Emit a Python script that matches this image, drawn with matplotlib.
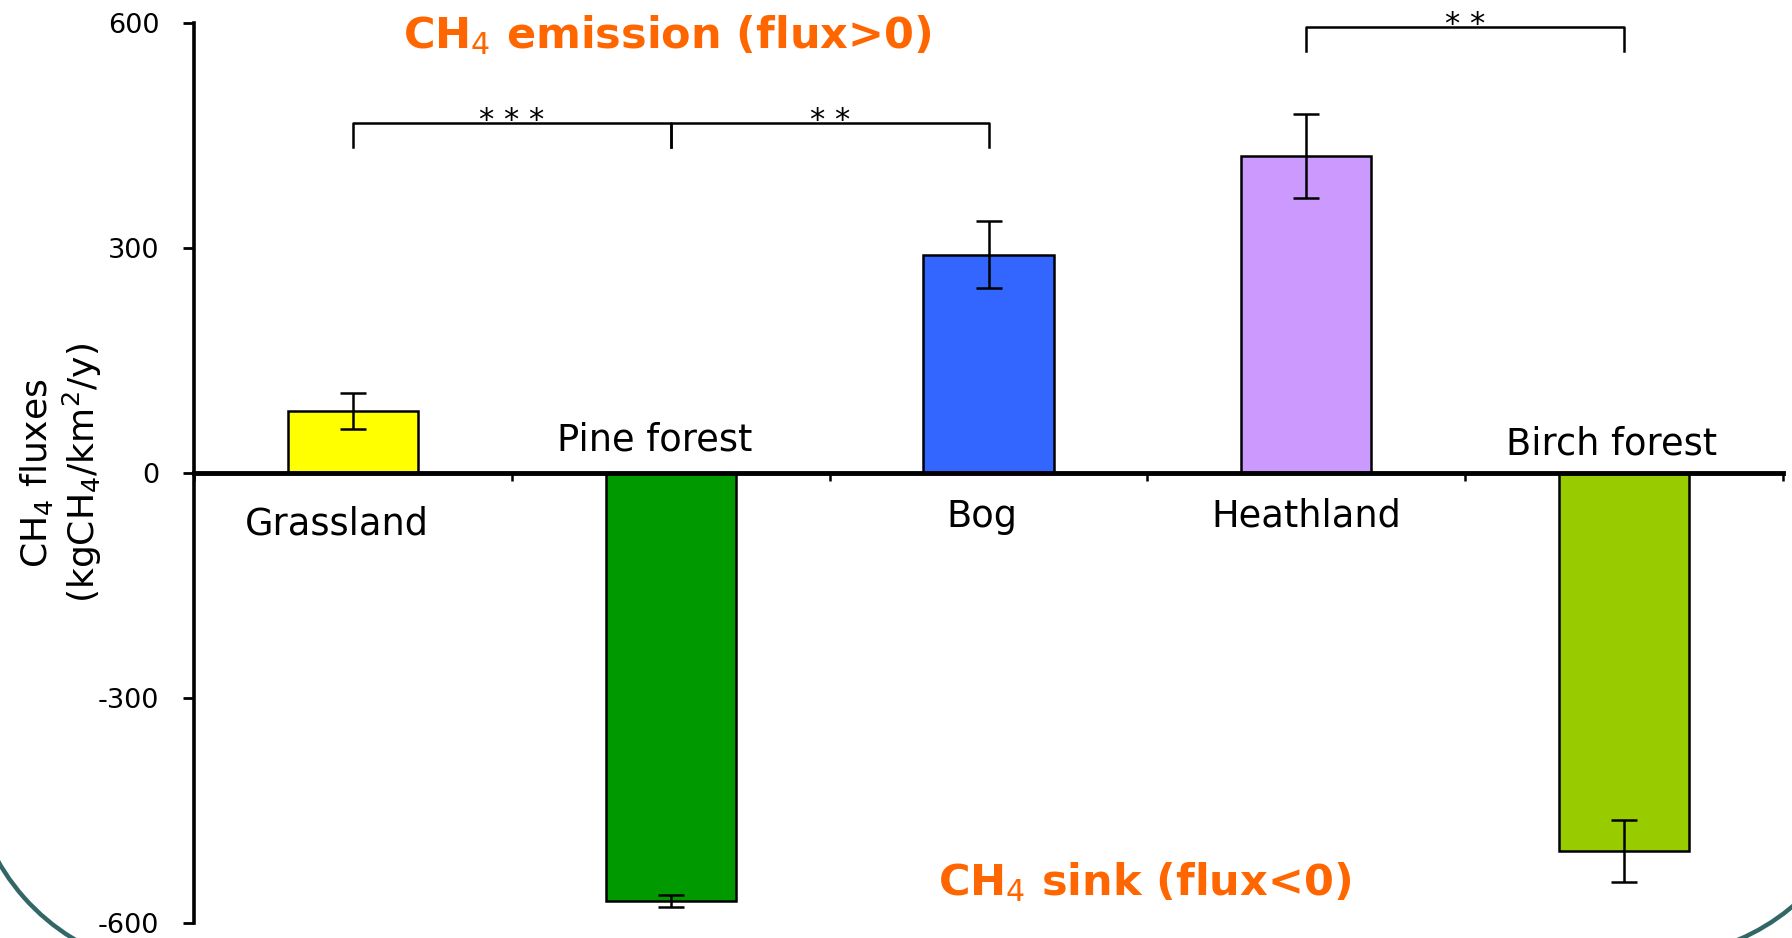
import matplotlib
matplotlib.use("Agg")
import matplotlib.pyplot as plt
from matplotlib.patches import Arc
import numpy as np

# ---- data ----
categories = ["Grassland", "Pine forest", "Bog", "Heathland", "Birch forest"]
fluxes = [82, -571, 291, 423, -504]
errors = [24, 8, 45, 56, 41]
bar_colors = ["#FFFF00", "#009900", "#3366FF", "#CC99FF", "#99CC00"]
brackets = [(0, 1, "* * *", 466), (1, 2, "* *", 466), (3, 4, "* *", 595)]
yticks = [-600, -300, 0, 300, 600]

# label placement (layout only)
label_dx = [-0.05, -0.05, -0.02, 0.0, -0.04]
label_y = [-68, 44, -58, -57, 38]

plt.rcParams['font.family'] = ['DejaVu Sans']

fig = plt.figure(figsize=(17.92, 9.38), dpi=100)
ax = fig.add_axes([0.1083, 0.016, 0.8867, 0.9595])

x = np.arange(len(categories))
ax.bar(x, fluxes, width=0.41, color=bar_colors, edgecolor="black", linewidth=1.8, zorder=2)
ax.errorbar(x, fluxes, yerr=errors, fmt="none", ecolor="black", elinewidth=1.8,
            capsize=9.5, capthick=1.8, zorder=3)

ax.set_xlim(-0.5, 4.5)
ax.set_ylim(-600, 600)

# spines
for s in ["top", "right"]:
    ax.spines[s].set_visible(False)
ax.spines["bottom"].set_position(("data", 0))
ax.spines["bottom"].set_linewidth(3.5)
ax.spines["left"].set_linewidth(2.6)
ax.spines["left"].set_bounds(-600, 600)

ax.set_yticks(yticks)
ax.set_yticklabels([str(v) for v in yticks])
ax.tick_params(axis="y", direction="out", length=8, width=2, labelsize=19.5, pad=17)
ax.set_xticks(np.arange(-0.5, 5.0, 1.0))
ax.set_xticklabels([])
ax.tick_params(axis="x", direction="out", length=6, width=1.8)

# category labels on the opposite side of each bar
for i, c in enumerate(categories):
    ax.text(i + label_dx[i], label_y[i], c, ha="center", va="center", fontsize=26.5,
            color="black")

# significance brackets
for a, b, stars, yb in brackets:
    ax.plot([a, a, b, b], [yb - 32, yb, yb, yb - 32], color="black", lw=1.8, zorder=3)
    ax.text((a + b) / 2, yb - 8, stars, ha="center", va="baseline", fontsize=22)

# orange annotations
ax.text(0.99, 584, r"CH$_4$ emission (flux>0)", ha="center", va="center",
        fontsize=31, fontweight="bold", color="#FF6600")
ax.text(2.49, -545, r"CH$_4$ sink (flux<0)", ha="center", va="center",
        fontsize=31, fontweight="bold", color="#FF6600")

ax.set_ylabel("CH$_4$ fluxes\n(kgCH$_4$/km$^2$/y)", fontsize=26, linespacing=1.15)
ax.yaxis.set_label_coords(-0.057, 0.5)

# decorative teal arcs (slide frame corners)
W, H = 1792, 938
r = 215
fig.patches.append(Arc((185 / W, 183 / H), 2 * r / W, 2 * r / H, theta1=195, theta2=262,
                       transform=fig.transFigure, color="#336666", lw=3.2))
fig.patches.append(Arc((1654 / W, 196 / H), 2 * r / W, 2 * r / H, theta1=278, theta2=340,
                       transform=fig.transFigure, color="#336666", lw=3.2))

fig.savefig("out.png", dpi=100)
